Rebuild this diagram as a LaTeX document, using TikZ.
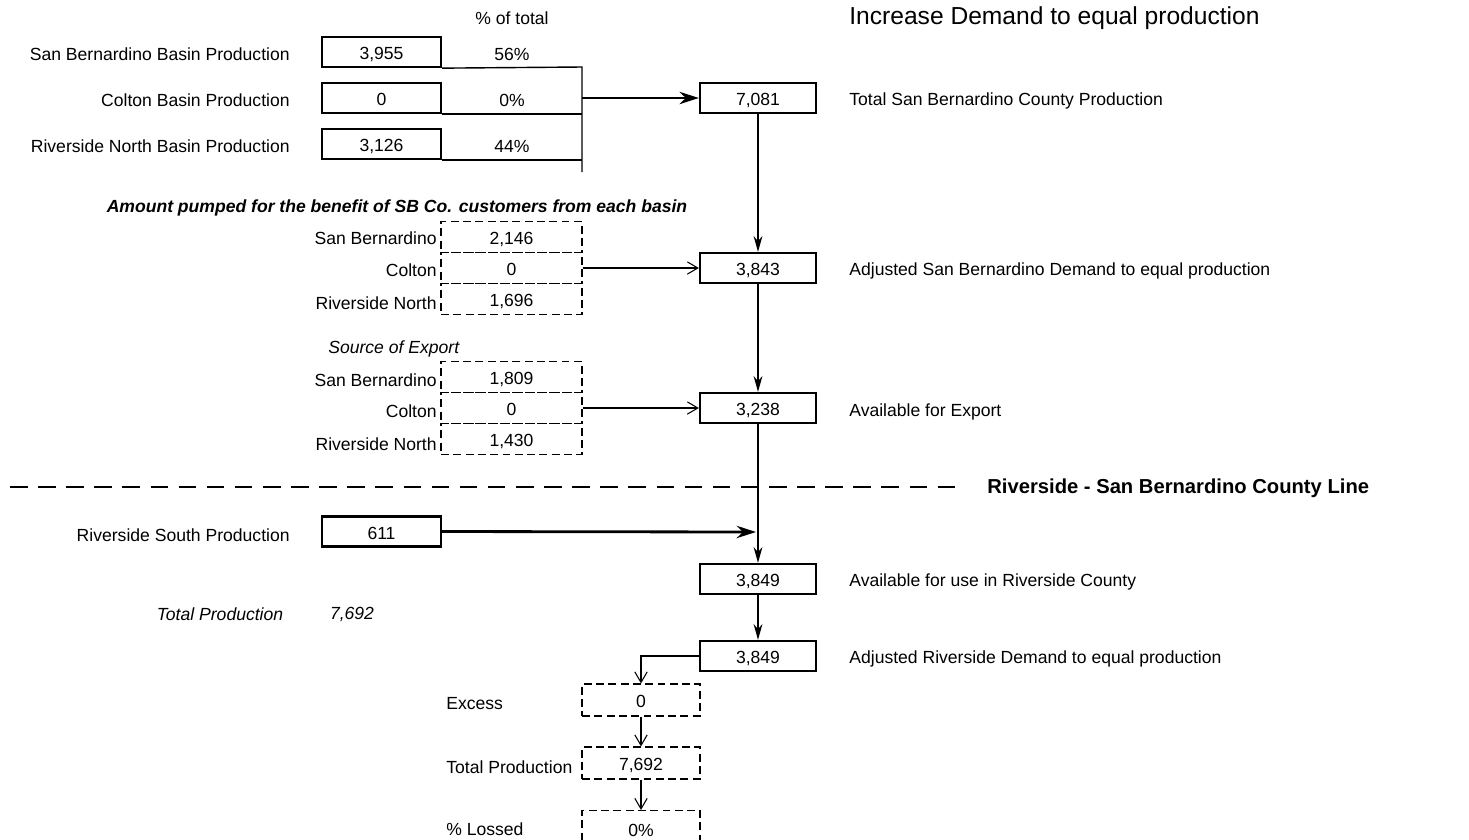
\documentclass[tikz,border=0pt]{standalone}
\usepackage{fontspec}
\setmainfont{Liberation Sans}
\usetikzlibrary{arrows.meta}
\begin{document}
\begin{tikzpicture}[x=0.02cm,y=-0.02cm,font=\fontsize{10}{12}\selectfont,
  box/.style={draw,line width=1.3pt,minimum width=2.38cm,minimum height=0.6cm,inner sep=0pt,text height=9pt,text depth=0pt},
  bigbox/.style={box,minimum width=2.32cm},
  cell/.style={draw,dash pattern=on 4.5pt off 2.5pt,line width=0.6pt,minimum width=2.82cm,minimum height=0.62cm,inner sep=0pt,text height=9pt,text depth=0pt},
  lbl/.style={anchor=east,inner sep=0pt},
  rlbl/.style={anchor=west,inner sep=0pt},
  flow/.style={line width=1.1pt,-{Stealth[length=9pt,width=5pt]}},
  feed/.style={line width=1.6pt,-{Stealth[length=11pt,width=7pt]}},
  thin/.style={line width=0.6pt,-{Straight Barb[length=6pt,width=7pt]}}]
  \useasboundingbox (0,0) rectangle (1469,839);
  \clip (0,0) rectangle (1469,839);
  \node (pct) at (512,18) {\% of total};
  \node[rlbl,font=\fontsize{14}{16}\selectfont] (head) at (849,18) {Increase Demand to equal production};
  \node[box] (sbp) at (381.5,52) {3,955};
  \node[box] (cbp) at (381.5,98) {0};
  \node[box] (rnp) at (381.5,144) {3,126};
  \node[lbl] (sbpl) at (290,54) {San Bernardino Basin Production};
  \node[lbl] (cbpl) at (290,100) {Colton Basin Production};
  \node[lbl] (rnpl) at (290,146) {Riverside North Basin Production};
  \node (sbpc) at (512,54) {56\%};
  \node (cbpc) at (512,100) {0\%};
  \node (rnpc) at (512,146) {44\%};
  \coordinate (join) at (582,67);
  \coordinate (joinb) at (582,172);
  \draw[line width=0.8pt] (sbp.south east) -- (join) -- (joinb);
  \draw[line width=0.8pt] (cbp.south east) -- (cbp.south east -| join);
  \draw[line width=0.8pt] (rnp.south east) -- (rnp.south east -| join);
  \node[bigbox] (tsb) at (758,98) {7,081};
  \node[rlbl] (tsbl) at (849,101) {Total San Bernardino County Production};
  \draw[feed] (join |- tsb) -- (tsb);
  \node[font=\fontsize{10}{12}\selectfont\bfseries\itshape] (amt) at (397,208) {Amount pumped for the benefit of SB Co. customers from each basin};
  \node[cell] (asb) at (511.5,237) {2,146};
  \node[cell] (acol) at (511.5,268) {0};
  \node[cell] (arn) at (511.5,299) {1,696};
  \node[lbl] (asbl) at (437,238) {San Bernardino};
  \node[lbl] (acoll) at (437,270) {Colton};
  \node[lbl] (arnl) at (437,303) {Riverside North};
  \node[bigbox] (adjsb) at (758,268) {3,843};
  \node[rlbl] (adjsbl) at (849,271) {Adjusted San Bernardino Demand to equal production};
  \draw[thin] (acol.east) -- (adjsb);
  \draw[flow] (tsb) -- (adjsb);
  \node[rlbl,font=\fontsize{10}{12}\selectfont\itshape] (srcl) at (328,349) {Source of Export};
  \node[cell] (esb) at (511.5,377) {1,809};
  \node[cell] (ecol) at (511.5,408) {0};
  \node[cell] (ern) at (511.5,439) {1,430};
  \node[lbl] (esbl) at (437,380) {San Bernardino};
  \node[lbl] (ecoll) at (437,411) {Colton};
  \node[lbl] (ernl) at (437,444) {Riverside North};
  \node[bigbox] (exp) at (758,408) {3,238};
  \node[rlbl] (expl) at (849,412) {Available for Export};
  \draw[thin] (ecol.east) -- (exp);
  \draw[flow] (adjsb) -- (exp);
  \coordinate (linea) at (10,487);
  \coordinate (lineb) at (962,487);
  \draw[line width=1.6pt,dash pattern=on 10pt off 6pt] (linea) -- (lineb);
  \node[rlbl,font=\fontsize{11.5}{14}\selectfont\bfseries] (linel) at (987,488) {Riverside - San Bernardino County Line};
  \node[box] (rsp) at (381.5,531.5) {611};
  \node[lbl] (rspl) at (290,535) {Riverside South Production};
  \node[bigbox] (ruse) at (758,579) {3,849};
  \node[rlbl] (rusel) at (849,582) {Available for use in Riverside County};
  \draw[flow] (exp) -- (ruse);
  \coordinate (merge) at (756,532);
  \draw[feed] (rsp.east) -- (merge);
  \node[font=\fontsize{10}{12}\selectfont\itshape] (totl) at (220,614) {Total Production};
  \node[font=\fontsize{10}{12}\selectfont\itshape] (totv) at (352,614) {7,692};
  \node[bigbox] (adjr) at (758,656) {3,849};
  \node[rlbl] (adjrl) at (849,659) {Adjusted Riverside Demand to equal production};
  \draw[flow] (ruse) -- (adjr);
  \node[cell,minimum width=2.36cm,minimum height=0.64cm] (exc) at (641,700) {0};
  \node[cell,minimum width=2.36cm,minimum height=0.64cm] (tot) at (641,763) {7,692};
  \node[cell,minimum width=2.36cm,minimum height=0.74cm] (loss) at (641,829) {0\%};
  \node[rlbl] (excl) at (446,704) {Excess};
  \node[rlbl] (totpl) at (446,767) {Total Production};
  \node[rlbl] (lossl) at (446,829) {\% Lossed};
  \draw[thin] (adjr.west) -| (exc.north);
  \draw[thin] (exc) -- (tot);
  \draw[thin] (tot) -- (loss);
\end{tikzpicture}
\end{document}
